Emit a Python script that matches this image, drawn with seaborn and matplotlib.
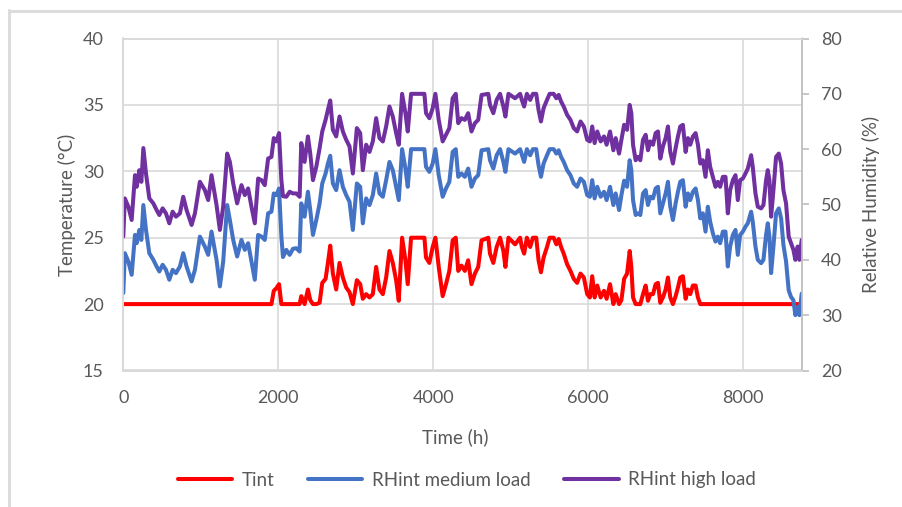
import matplotlib
matplotlib.use("Agg")
import matplotlib.pyplot as plt
from matplotlib.lines import Line2D
import pandas as pd
import seaborn as sns

# Hourly simulation results sampled over one year (8760 h)
hours = [
    0, 20, 65, 108, 151, 173, 207, 233, 259, 293,
    336, 388, 430, 465, 508, 551, 594, 637, 680, 731,
    774, 817, 882, 925, 989, 1053, 1096, 1139, 1204, 1247,
    1290, 1341, 1376, 1419, 1470, 1526, 1569, 1612, 1655, 1698,
    1741, 1784, 1827, 1870, 1913, 1943, 1977, 2011, 2041, 2062,
    2105, 2148, 2191, 2234, 2277, 2298, 2341, 2384, 2414, 2449,
    2492, 2535, 2569, 2612, 2642, 2672, 2706, 2749, 2792, 2835,
    2878, 2921, 2964, 3016, 3059, 3093, 3136, 3179, 3222, 3265,
    3308, 3351, 3394, 3437, 3480, 3523, 3557, 3600, 3643, 3673,
    3716, 3888, 3909, 3952, 3995, 4030, 4073, 4124, 4167, 4210,
    4253, 4293, 4325, 4367, 4410, 4453, 4496, 4540, 4583, 4626,
    4713, 4735, 4778, 4821, 4865, 4908, 4934, 4973, 5059, 5124,
    5146, 5176, 5211, 5254, 5289, 5332, 5362, 5393, 5427, 5471,
    5505, 5557, 5592, 5622, 5653, 5687, 5731, 5774, 5817, 5860,
    5904, 5947, 5990, 6025, 6055, 6086, 6120, 6164, 6207, 6241,
    6285, 6328, 6358, 6402, 6432, 6467, 6505, 6539, 6560, 6582,
    6616, 6646, 6676, 6711, 6745, 6775, 6805, 6840, 6874, 6904,
    6934, 6968, 7003, 7033, 7063, 7097, 7132, 7162, 7192, 7226,
    7261, 7291, 7321, 7355, 7390, 7420, 7450, 7484, 7518, 7548,
    7578, 7613, 7647, 7677, 7707, 7742, 7776, 7806, 7836, 7871,
    7905, 7935, 7965, 8000, 8034, 8064, 8107, 8128, 8163, 8193,
    8236, 8266, 8300, 8322, 8343, 8365, 8395, 8429, 8464, 8494,
    8524, 8558, 8592, 8622, 8653, 8678, 8708, 8730, 8760,
]

# Indoor air temperature (degC)
t_int = [
    20, 20, 20, 20, 20, 20, 20, 20, 20, 20,
    20, 20, 20, 20, 20, 20, 20, 20, 20, 20,
    20, 20, 20, 20, 20, 20, 20, 20, 20, 20,
    20, 20, 20, 20, 20, 20, 20, 20, 20, 20,
    20, 20, 20, 20, 20, 21.0, 21.2, 21.5, 20, 20,
    20, 20, 20, 20, 20, 20.6, 20, 21.1, 20.3, 20,
    20, 20.1, 21.6, 21.9, 23.1, 24.4, 22.3, 21.1, 23.1, 22.0,
    21.25, 20.9, 20, 21.8, 21.5, 20.4, 20.75, 20.5, 20.75, 22.8,
    21.1, 20.75, 22.0, 24.0, 23.1, 21.8, 20.25, 25.0, 23.3, 21.5,
    25.0, 25.0, 23.5, 23.1, 24.3, 25.0, 22.8, 20.6, 21.5, 22.5,
    24.8, 25.0, 22.5, 22.9, 22.5, 23.3, 21.5, 22.3, 22.8, 24.8,
    25.0, 23.8, 23.1, 24.3, 25.0, 24.0, 22.8, 25.0, 24.5, 25.0,
    24.3, 23.8, 25.0, 24.3, 25.0, 25.0, 23.3, 22.4, 23.5, 24.3,
    25.0, 25.0, 24.5, 24.9, 24.3, 23.8, 23.0, 22.5, 21.9, 21.6,
    22.3, 22.0, 20.75, 20.5, 22.1, 20.5, 21.4, 20.5, 21.0, 20.4,
    21.5, 20, 20.75, 20, 20.3, 21.9, 22.3, 24.0, 22.8, 20.5,
    20, 20, 20, 20.75, 21.4, 20.25, 20.75, 20.75, 21.5, 21.6,
    20.1, 20.5, 21.1, 22.0, 20.5, 20, 20.6, 21.25, 22.0, 22.1,
    20.4, 21.1, 20.75, 21.4, 21.4, 20.5, 20, 20, 20, 20,
    20, 20, 20, 20, 20, 20, 20, 20, 20, 20,
    20, 20, 20, 20, 20, 20, 20, 20, 20, 20,
    20, 20, 20, 20, 20, 20, 20, 20, 20, 20,
    20, 20, 20, 20, 20, 20, 20, 20, 20,
]

# Indoor relative humidity (%), medium moisture load
rh_medium = [
    34.0, 41.2, 39.7, 37.3, 44.5, 43.0, 45.4, 43.6, 49.9, 45.4,
    41.2, 40.0, 38.8, 37.9, 39.1, 38.2, 36.4, 38.2, 37.6, 38.8,
    41.2, 38.8, 36.1, 38.2, 44.2, 42.4, 40.9, 45.1, 40.0, 35.2,
    39.7, 49.9, 47.2, 43.6, 40.6, 43.6, 41.8, 43.0, 39.7, 36.4,
    44.5, 44.2, 43.6, 48.4, 48.7, 52.0, 51.7, 52.9, 44.2, 40.5,
    41.8, 40.9, 42.0, 42.1, 41.5, 50.2, 47.8, 52.3, 49.0, 44.5,
    47.2, 50.2, 53.8, 55.6, 57.4, 58.8, 53.8, 52.6, 56.2, 53.2,
    51.7, 50.5, 45.4, 53.8, 53.2, 46.6, 51.1, 49.9, 51.7, 55.6,
    52.0, 51.4, 54.4, 57.7, 56.2, 53.2, 50.8, 60.0, 56.5, 53.2,
    60.0, 60.0, 56.8, 55.9, 57.4, 60.0, 55.3, 51.4, 52.9, 54.1,
    59.5, 60.0, 55.0, 55.6, 55.0, 56.5, 53.2, 54.7, 55.3, 59.8,
    60.0, 58.0, 56.5, 58.9, 60.0, 57.7, 55.9, 60.0, 59.2, 60.0,
    59.0, 57.7, 60.0, 58.9, 60.0, 60.0, 57.1, 55.0, 57.4, 58.9,
    60.0, 60.0, 59.2, 59.8, 58.6, 57.7, 56.2, 55.3, 53.8, 53.2,
    54.7, 54.1, 51.7, 51.4, 54.4, 51.1, 53.2, 51.4, 52.3, 50.8,
    53.2, 49.9, 52.0, 49.0, 51.7, 54.3, 53.2, 58.0, 56.2, 50.8,
    48.1, 48.4, 48.1, 52.0, 52.6, 49.9, 51.4, 51.1, 52.9, 53.2,
    48.4, 50.2, 52.0, 54.1, 49.6, 47.2, 50.2, 52.3, 54.1, 54.4,
    49.6, 52.0, 50.8, 52.3, 52.9, 50.8, 47.5, 48.4, 45.1, 49.6,
    46.9, 44.8, 43.3, 44.2, 43.0, 45.1, 45.1, 38.8, 42.4, 44.5,
    45.4, 40.9, 44.5, 45.1, 46.0, 46.6, 48.7, 46.9, 42.4, 40.0,
    39.4, 40.0, 44.5, 46.6, 44.2, 37.6, 42.4, 48.4, 49.3, 47.5,
    42.7, 39.7, 34.5, 33.3, 32.7, 30.0, 31.5, 30.0, 33.9,
]

# Indoor relative humidity (%), high moisture load
rh_high = [
    44.2, 51.1, 49.6, 47.2, 55.3, 53.2, 56.2, 54.1, 60.2, 55.6,
    51.1, 50.2, 49.0, 48.1, 49.3, 48.4, 46.6, 48.7, 47.8, 48.4,
    51.4, 49.0, 46.3, 48.4, 54.1, 52.6, 50.8, 55.3, 49.9, 45.4,
    49.6, 59.2, 57.7, 53.8, 50.2, 53.5, 51.7, 52.9, 49.6, 46.6,
    54.7, 54.4, 53.5, 58.3, 58.6, 62.0, 61.4, 62.9, 54.4, 51.5,
    51.4, 52.3, 52.0, 52.0, 51.4, 61.1, 57.7, 62.3, 59.2, 54.4,
    56.8, 60.2, 63.2, 65.3, 67.1, 68.8, 63.5, 62.3, 65.9, 63.2,
    61.7, 60.5, 55.6, 63.8, 62.9, 56.2, 60.8, 59.5, 61.4, 65.6,
    62.0, 61.4, 64.1, 67.7, 65.9, 62.9, 60.8, 70.0, 66.5, 63.2,
    70.0, 70.0, 66.5, 65.6, 67.4, 70.0, 65.3, 61.4, 62.6, 63.8,
    69.2, 70.0, 64.7, 65.6, 65.3, 66.5, 63.2, 64.7, 65.3, 69.8,
    70.0, 68.0, 66.5, 68.9, 70.0, 67.7, 65.9, 70.0, 69.2, 70.0,
    68.9, 67.7, 70.0, 68.9, 70.0, 70.0, 67.1, 65.0, 67.4, 68.9,
    70.0, 70.0, 69.2, 69.8, 68.6, 67.7, 66.2, 65.3, 63.8, 63.2,
    65.0, 64.1, 61.7, 61.4, 64.1, 61.1, 63.2, 61.4, 62.3, 60.8,
    63.2, 59.8, 62.0, 59.2, 61.7, 64.4, 63.5, 68.0, 66.5, 60.8,
    58.0, 58.6, 58.0, 61.7, 62.6, 59.8, 61.4, 60.8, 62.9, 63.2,
    58.3, 60.5, 62.0, 64.1, 59.5, 57.4, 60.2, 62.3, 64.1, 64.4,
    59.5, 62.0, 60.8, 62.3, 62.9, 60.8, 57.4, 58.0, 55.0, 59.8,
    56.8, 55.0, 53.2, 54.1, 53.2, 55.0, 55.0, 48.4, 52.6, 54.4,
    55.3, 50.8, 54.4, 54.7, 55.6, 56.5, 58.9, 56.8, 52.0, 49.6,
    49.3, 49.9, 54.4, 56.2, 54.4, 47.8, 52.6, 58.6, 59.2, 57.4,
    52.6, 50.2, 44.2, 43.0, 41.8, 40.0, 42.4, 40.0, 43.6,
]

series_labels = ["Tint", "RHint medium load", "RHint high load"]
series_colors = ["#FF0000", "#4472C4", "#7030A0"]

x_ticks = [0, 2000, 4000, 6000, 8000]
t_ticks = [15, 20, 25, 30, 35, 40]
rh_ticks = [20, 30, 40, 50, 60, 70, 80]

df = pd.DataFrame({"hours": hours, "t_int": t_int,
                   "rh_medium": rh_medium, "rh_high": rh_high})

sns.set_theme(style="white")
plt.rcParams["font.family"] = ["Lato", "DejaVu Sans"]

text_grey = "#595959"
grid_grey = "#D9D9D9"

fig = plt.figure(figsize=(9.03, 5.07), dpi=100)
left, right = 123.3 / 903, 801.7 / 903
bottom, top = 1 - 370.5 / 507, 1 - 38.5 / 507
ax = fig.add_axes([left, bottom, right - left, top - bottom])
ax2 = ax.twinx()

lw = 2.9
line_kw = dict(linewidth=lw, legend=False, solid_joinstyle="round",
               solid_capstyle="round")
sns.lineplot(data=df, x="hours", y="t_int", ax=ax, color=series_colors[0], **line_kw)
sns.lineplot(data=df, x="hours", y="rh_medium", ax=ax2, color=series_colors[1], **line_kw)
sns.lineplot(data=df, x="hours", y="rh_high", ax=ax2, color=series_colors[2], **line_kw)

ax.set_xlim(0, 8760)
ax.set_ylim(15, 40)
ax2.set_ylim(20, 80)
ax.set_xticks(x_ticks)
ax.set_yticks(t_ticks)
ax2.set_yticks(rh_ticks)

ax.grid(True, color=grid_grey, linewidth=1.2)
ax2.grid(False)
ax.set_axisbelow(True)

for a in (ax, ax2):
    for s in a.spines.values():
        s.set_color(grid_grey)
        s.set_linewidth(1.2)
ax2.spines["right"].set_color("#BFBFBF")

ax.tick_params(axis="x", length=0, pad=14, labelsize=13, colors=text_grey)
ax.tick_params(axis="y", length=0, pad=14, labelsize=13, colors=text_grey)
ax2.tick_params(axis="y", length=5, width=1.2, color="#BFBFBF", pad=9,
                labelsize=13, labelcolor=text_grey)

ax.set_xlabel("Time (h)", fontsize=13.5, color=text_grey)
ax.set_ylabel("Temperature (°C)", fontsize=13.5, color=text_grey)
ax2.set_ylabel("Relative Humidity (%)", fontsize=13.5, color=text_grey)
ax.xaxis.set_label_coords(0.49, -0.2)
ax.xaxis.label.set_va("center")
ax.yaxis.set_label_coords(-0.083, 0.5)
ax.yaxis.label.set_va("center")
ax2.yaxis.set_label_coords(1.102, 0.5)
ax2.yaxis.label.set_va("center")

handles = [Line2D([], [], color=c, linewidth=lw) for c in series_colors]
fig.legend(handles, series_labels, loc="center", bbox_to_anchor=(0.517, 1 - 480 / 507),
           ncol=3, frameon=False, fontsize=13.5, handlelength=2.9,
           handletextpad=0.5, columnspacing=1.8, labelcolor=text_grey)

# thin outer frame on the top and left edges
frame_col = "#DCDCDC"
fig.add_artist(Line2D([9.5 / 903, 9.5 / 903], [0, 1 - 10 / 507],
                      transform=fig.transFigure, color=frame_col, linewidth=2.2))
fig.add_artist(Line2D([8.5 / 903, 1], [1 - 11 / 507, 1 - 11 / 507],
                      transform=fig.transFigure, color=frame_col, linewidth=2.2))

fig.savefig("out.png", dpi=100)
